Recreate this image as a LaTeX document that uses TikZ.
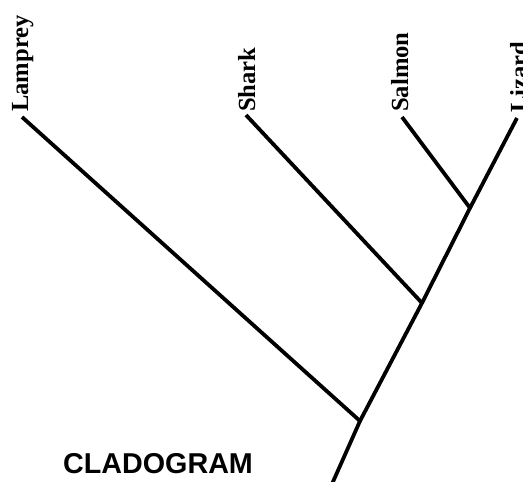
\documentclass[tikz,border=0pt]{standalone}
\usepackage{fontspec}
\setmainfont{Liberation Serif}
\newfontfamily\titlefont{Liberation Sans}
\begin{document}
\begin{tikzpicture}[x=1pt,y=-1pt,
  branch/.style={line width=3.8pt, line cap=butt, line join=round},
  taxon/.style={rotate=90, anchor=base west, inner sep=0pt, font=\fontsize{24.6}{28}\selectfont\bfseries},
  title/.style={anchor=base west, inner sep=0pt, font=\titlefont\fontsize{28.7}{32}\selectfont\bfseries}]
\useasboundingbox (0,0) rectangle (523,482);
\clip (0,0) rectangle (523,482);
% tips and junctions
\coordinate (root) at (332,484);
\coordinate (j1) at (360,421);
\coordinate (j2) at (422,303);
\coordinate (j3) at (470,208);
\coordinate (tLamprey) at (22,117);
\coordinate (tShark) at (246,115);
\coordinate (tSalmon) at (402,117);
\coordinate (tLizard) at (517,118);
% labels
\node[taxon] (lLamprey) at (28,112) {Lamprey};
\node[taxon] (lShark) at (255,112) {Shark};
\node[taxon] (lSalmon) at (408,112) {Salmon};
\node[taxon] (lLizard) at (527,113) {Lizard};
\node[title] (title) at (63,473) {CLADOGRAM};
% tree
\draw[branch] (root) -- (j1) -- (j2) -- (j3) -- (tLizard);
\draw[branch] (tLamprey) -- (j1);
\draw[branch] (tShark) -- (j2);
\draw[branch] (tSalmon) -- (j3);
\end{tikzpicture}
\end{document}
